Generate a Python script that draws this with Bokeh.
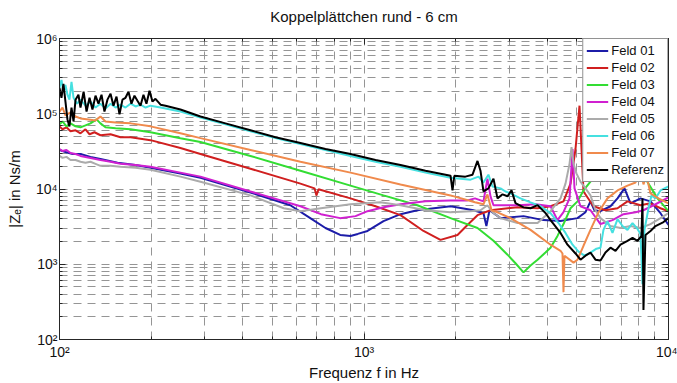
from bokeh.plotting import figure
from bokeh.models import Range1d, LogAxis, FixedTicker, CustomJSTickFormatter
from bokeh.embed import file_html
from bokeh.resources import INLINE

# ---------------------------------------------------------------------------
# Measured input impedance |Z_e| (Ns/m) over frequency (Hz)
# ---------------------------------------------------------------------------
feld01_f = [100, 104.6, 110.4, 117.2, 126.4, 136.3, 155.1, 177.7, 199, 249.5,
            290.4, 423.8, 573, 666, 747.3, 835, 903, 954, 1027, 1159,
            1318, 1497, 1924, 2290, 2468, 2523, 2583, 2808, 3341, 3885,
            4419, 5025, 5338, 5543, 5713, 5979, 6449, 6801, 7169, 7504,
            8091, 8727, 9413, 10000]
feld01_z = [3.30e4, 3.10e4, 2.92e4, 2.92e4, 2.67e4, 2.51e4, 2.23e4, 2.09e4, 1.91e4, 1.60e4,
            1.41e4, 9.0e3, 6.08e3, 4.10e3, 3.03e3, 2.45e3, 2.38e3, 2.53e3, 2.77e3, 3.75e3,
            4.63e3, 5.22e3, 5.9e3, 5.22e3, 4.77e3, 3.22e3, 5.22e3, 4.10e3, 4.36e3, 3.86e3,
            3.75e3, 4.10e3, 4.92e3, 6.85e3, 5.22e3, 5.07e3, 5.9e3, 7.51e3, 1.02e4, 6.46e3,
            7.51e3, 6.85e3, 4.77e3, 3.32e3]

feld02_f = [100, 102.3, 105.4, 108.7, 112.9, 117.2, 121.7, 125.5, 130.3, 136.3,
            147.1, 158.6, 171.1, 199, 249.5, 290.4, 423.8, 618.4, 688, 698,
            709, 903, 1091, 1318, 1568, 1783, 2028, 2186, 2359, 2603,
            3192, 3715, 4098, 4520, 4767, 4950, 5102, 5180, 5258, 5670,
            6208, 6801, 7333, 8091, 8727, 9413, 10000]
feld02_z = [6.8e4, 6.22e4, 6.6e4, 5.85e4, 6.03e4, 5.5e4, 6.22e4, 5.34e4, 5.68e4, 5.18e4,
            5.34e4, 4.88e4, 4.88e4, 4.46e4, 3.50e4, 2.92e4, 1.86e4, 1.18e4, 1.02e4, 8.22e3,
            9.9e3, 7.51e3, 5.9e3, 4.49e3, 2.77e3, 2.11e3, 2.45e3, 3.32e3, 4.49e3, 5.22e3,
            5.72e3, 5.55e3, 5.9e3, 6.85e3, 1.18e4, 3.40e4, 1.28e5, 3.40e4, 9.27e3, 5.9e3,
            5.22e3, 5.55e3, 6.85e3, 6.08e3, 6.46e3, 5.55e3, 5.07e3]

feld03_f = [100, 102.3, 105.4, 108.7, 112.9, 117.2, 121.7, 126.4, 132.3, 136.3,
            141.6, 152.8, 171.1, 199, 249.5, 290.4, 423.8, 618.4, 903, 1159,
            1497, 1924, 2359, 2662, 2960, 3144, 3341, 3523, 3715, 3944,
            4098, 4320, 4520, 4767, 5025, 5258, 5543, 6115, 6956, 7795,
            8403, 9200, 10000]
feld03_z = [7.23e4, 7.91e4, 6.8e4, 7.45e4, 6.8e4, 6.6e4, 7.0e4, 7.45e4, 8.41e4, 7.45e4,
            6.6e4, 6.4e4, 6.22e4, 5.68e4, 4.74e4, 4.22e4, 2.75e4, 1.75e4, 1.11e4, 8.22e3,
            6.08e3, 4.10e3, 3.03e3, 2.05e3, 1.34e3, 1.03e3, 7.8e2, 9.6e2, 1.15e3, 1.43e3,
            1.66e3, 2.38e3, 3.42e3, 5.55e3, 6.85e3, 9.56e3, 1.25e4, 2.30e4, 3.4e4, 2.16e4,
            1.37e4, 7.51e3, 5.07e3]

feld04_f = [100, 102.3, 105.4, 108.7, 112.9, 117.2, 126.4, 136.3, 147.1, 158.6,
            177.7, 199, 249.5, 290.4, 423.8, 618.4, 722, 835, 938, 1027,
            1159, 1318, 1592, 1924, 2186, 2314, 2468, 2543, 2603, 2662,
            3192, 3660, 4098, 4320, 4520, 4731, 4840, 4913, 5140, 5543,
            5979, 6547, 7115, 7795, 8276, 9063, 10000]
feld04_z = [3.40e4, 3.20e4, 3.30e4, 3.01e4, 2.92e4, 2.75e4, 2.59e4, 2.43e4, 2.30e4, 2.16e4,
            2.09e4, 1.97e4, 1.65e4, 1.46e4, 9.27e3, 5.9e3, 4.63e3, 4.10e3, 4.36e3, 5.07e3,
            5.72e3, 6.27e3, 6.85e3, 7.06e3, 7.06e3, 7.51e3, 6.85e3, 1.37e4, 7.97e3, 6.08e3,
            6.08e3, 6.27e3, 5.9e3, 3.86e3, 4.92e3, 7.51e3, 3.40e4, 1.02e4, 5.9e3, 5.22e3,
            3.42e3, 3.86e3, 4.63e3, 4.92e3, 5.22e3, 6.27e3, 7.74e3]

feld05_f = [100, 102.3, 105.4, 108.7, 112.9, 117.2, 121.7, 126.4, 131.3, 136.3,
            147.1, 158.6, 177.7, 199, 249.5, 290.4, 423.8, 545, 618.4, 722,
            903, 1132, 1318, 1592, 1924, 2238, 2413, 2543, 2642, 2808,
            3192, 3715, 4098, 4419, 4589, 4731, 4803, 4876, 4988, 5140,
            5338, 5543, 5756, 5979, 6449, 6956, 7504, 8091, 8727, 9413,
            10000]
feld05_z = [2.75e4, 2.59e4, 2.67e4, 2.43e4, 2.43e4, 2.30e4, 2.23e4, 2.30e4, 2.16e4, 2.03e4,
            2.03e4, 1.97e4, 1.91e4, 1.80e4, 1.46e4, 1.25e4, 8.22e3, 5.55e3, 5.07e3, 5.55e3,
            6.27e3, 6.65e3, 6.08e3, 5.22e3, 4.92e3, 5.07e3, 5.22e3, 6.08e3, 4.92e3, 4.10e3,
            3.53e3, 3.53e3, 5.07e3, 7.51e3, 1.18e4, 2.16e4, 3.61e4, 2.16e4, 1.60e4, 1.25e4,
            1.02e4, 8.22e3, 5.22e3, 4.10e3, 3.22e3, 3.03e3, 3.22e3, 3.03e3, 3.42e3, 4.10e3,
            4.77e3]

feld06_f = [100, 101.5, 103, 104.6, 106.2, 107.8, 109.5, 111.2, 114.2, 117.2,
            121.7, 126.4, 131.3, 136.3, 141.6, 147.1, 152.8, 158.6, 164.7, 171.1,
            177.7, 184.5, 191.7, 199, 214.7, 249.5, 290.4, 350.8, 423.8, 512,
            618.4, 747.3, 903, 1091, 1318, 1592, 1924, 2238, 2377, 2468,
            2562, 2642, 2808, 2916, 3074, 3266, 3523, 3798, 4098, 4353,
            4589, 4840, 5063, 5298, 5543, 5800, 5979, 6115, 6302, 6547,
            6801, 7062, 7333, 7618, 7912, 8091, 8214, 8339, 8596, 8793,
            9063, 9413, 10000]
feld06_z = [2.21e5, 2.81e5, 1.96e5, 2.42e5, 1.79e5, 1.54e5, 2.65e5, 1.63e5, 1.36e5, 1.54e5,
            1.28e5, 1.45e5, 1.21e5, 1.36e5, 1.17e5, 1.36e5, 1.21e5, 1.32e5, 1.21e5, 1.36e5,
            1.25e5, 1.32e5, 1.21e5, 1.28e5, 1.21e5, 1.07e5, 8.93e4, 7.23e4, 5.85e4, 4.74e4,
            3.95e4, 3.30e4, 2.75e4, 2.30e4, 1.97e4, 1.65e4, 1.41e4, 1.33e4, 1.46e4, 1.22e4,
            1.55e4, 1.08e4, 1.02e4, 9.27e3, 8.5e3, 7.51e3, 6.65e3, 5.9e3, 4.77e3, 3.53e3,
            2.61e3, 1.82e3, 1.47e3, 1.30e3, 1.43e3, 1.61e3, 1.66e3, 2.86e3, 3.75e3, 2.61e3,
            3.98e3, 3.22e3, 2.86e3, 3.53e3, 2.95e3, 2.53e3, 5.42e2, 2.86e3, 5.55e3, 8.22e3,
            7.51e3, 9.56e3, 1.08e4]

feld07_f = [100, 102.3, 104.6, 108.7, 112.9, 117.2, 124.5, 131.3, 136.3, 141.6,
            152.8, 171.1, 199, 249.5, 290.4, 423.8, 618.4, 903, 1318, 1924,
            2314, 2468, 2543, 2623, 2744, 3028, 3523, 4098, 4419, 4486,
            4520, 4554, 4876, 5025, 5258, 5543, 5890, 6302, 6801, 7333,
            7795, 8091, 8276, 8467, 8727, 9270, 10000]
feld07_z = [1.07e5, 1.21e5, 9.5e4, 1.04e5, 9.2e4, 8.67e4, 8.41e4, 8.16e4, 9.2e4, 7.91e4,
            7.67e4, 7.45e4, 6.8e4, 5.5e4, 4.74e4, 3.30e4, 2.30e4, 1.65e4, 1.15e4, 8.22e3,
            6.65e3, 6.27e3, 8.47e3, 5.22e3, 4.9e3, 4.10e3, 2.86e3, 1.82e3, 1.51e3, 1.39e3,
            4.26e2, 1.30e3, 1.05e3, 1.15e3, 1.76e3, 2.86e3, 4.9e3, 7.51e3, 9.56e3, 1.11e4,
            1.22e4, 1.86e4, 1.15e4, 1.5e4, 8.73e3, 7.51e3, 6.46e3]

referenz_f = [100, 101.5, 103, 104.6, 106.2, 107.8, 109.5, 111.2, 112.9, 115.4,
              117.2, 120, 122.7, 125.5, 128.3, 131.3, 134.3, 137.4, 140.5, 143.7,
              147.1, 150.4, 153.9, 157.4, 161, 164.7, 168.5, 172.3, 176.3, 180.3,
              184.5, 188.7, 193, 197.5, 202, 206.6, 214.7, 222.9, 249.5, 290.4,
              350.8, 423.8, 512, 618.4, 747.3, 903, 1091, 1318, 1592, 1924,
              1953, 1980, 2152, 2272, 2359, 2413, 2468, 2562, 2662, 2744,
              2851, 2960, 3051, 3144, 3341, 3523, 3715, 3944, 4098, 4419,
              4659, 4950, 5140, 5338, 5543, 5756, 5979, 6208, 6449, 6699,
              6956, 7333, 7618, 7912, 8152, 8214, 8276, 8403, 8727, 9063,
              9629, 10000]
referenz_z = [2.21e5, 1.63e5, 2.5e5, 1.45e5, 8.4e4, 6.8e4, 1.21e5, 7.9e4, 1.54e5, 1.79e5,
              1.21e5, 1.96e5, 1.07e5, 1.63e5, 1.14e5, 1.74e5, 1.36e5, 1.79e5, 1.07e5, 1.54e5,
              1.85e5, 1.28e5, 1.69e5, 9.8e4, 1.54e5, 1.63e5, 1.96e5, 1.36e5, 1.74e5, 1.49e5,
              1.28e5, 1.79e5, 1.36e5, 2.02e5, 1.45e5, 1.58e5, 1.32e5, 1.28e5, 1.14e5, 9.2e4,
              7.45e4, 6.03e4, 4.88e4, 4.08e4, 3.40e4, 2.92e4, 2.43e4, 2.09e4, 1.75e4, 1.50e4,
              9.6e3, 1.5e4, 1.46e4, 1.55e4, 2.36e4, 1.75e4, 9.3e3, 1.02e4, 1.37e4, 7.5e3,
              8.5e3, 8.0e3, 9.6e3, 6.5e3, 5.7e3, 5.55e3, 6.1e3, 4.8e3, 3.86e3, 2.61e3,
              1.82e3, 1.39e3, 1.15e3, 1.30e3, 1.43e3, 1.15e3, 1.12e3, 1.43e3, 1.66e3, 1.51e3,
              1.82e3, 2.05e3, 2.24e3, 2.05e3, 2.38e3, 7.5e3, 2.47e2, 2.45e3, 2.77e3, 3.22e3,
              3.64e3, 4.1e3]

series_names = ["Feld 01", "Feld 02", "Feld 03", "Feld 04",
                "Feld 05", "Feld 06", "Feld 07", "Referenz"]
series_colors = ["#1c1ca8", "#d01f1f", "#33dd33", "#d020d0",
                 "#ababab", "#45e0e0", "#f08a4c", "#000000"]
series_f = [feld01_f, feld02_f, feld03_f, feld04_f,
            feld05_f, feld06_f, feld07_f, referenz_f]
series_z = [feld01_z, feld02_z, feld03_z, feld04_z,
            feld05_z, feld06_z, feld07_z, referenz_z]

x_decades = [2, 3, 4]
y_decades = [2, 3, 4, 5, 6]
SUP = {2: "²", 3: "³", 4: "⁴", 5: "⁵", 6: "⁶"}
chart_title = "Koppelplättchen rund - 6 cm"

FONT = "Liberation Sans"
INK = "#262626"
TEXT = "#111111"
GRID = "#959595"

# ---------------------------------------------------------------------------
p = figure(width=677, height=383, x_axis_type="log", y_axis_type="log",
           x_range=Range1d(100, 10000), y_range=Range1d(100, 1e6),
           toolbar_location=None, output_backend="svg", title=None,
           min_border_left=59, min_border_right=9,
           min_border_top=38, min_border_bottom=40)
p.background_fill_color = "white"
p.border_fill_color = "white"
p.outline_line_color = INK
p.outline_line_width = 1


def decade_ticker(decades):
    majors = [10.0 ** d for d in decades]
    minors = [m * 10.0 ** d for d in decades[:-1] for m in range(2, 10)]
    return FixedTicker(ticks=majors, minor_ticks=minors)


def style_ticks(ax, decades):
    ax.ticker = decade_ticker(decades)
    ax.axis_line_color = INK
    ax.major_tick_line_color = INK
    ax.minor_tick_line_color = INK
    ax.major_tick_in = 6
    ax.major_tick_out = 0
    ax.minor_tick_in = 3
    ax.minor_tick_out = 0


def style_title(ax, title, title_standoff):
    ax.axis_label = title
    ax.axis_label_text_font = FONT
    ax.axis_label_text_font_size = "15px"
    ax.axis_label_text_font_style = "normal"
    ax.axis_label_text_color = TEXT
    ax.axis_label_standoff = title_standoff


def label_axis(ax, decades, standoff, title, title_standoff):
    ax.major_label_overrides = {10.0 ** d: "10" + SUP[d] for d in decades}
    ax.major_label_text_font = FONT
    ax.major_label_text_font_size = "14px"
    ax.major_label_text_color = TEXT
    ax.major_label_standoff = standoff
    style_title(ax, title, title_standoff)


xa = p.xaxis[0]
ya = p.yaxis[0]
style_ticks(xa, x_decades)
style_ticks(ya, y_decades)
label_axis(xa, x_decades, 4, "Frequenz f in Hz", 1)
label_axis(ya, y_decades, 2, "|Zₑ| in Ns/m", 10)
ya.major_label_orientation = "horizontal"

# tick marks on the upper and right frame edges, no tick labels there;
# the chart title sits on the upper one
blank = CustomJSTickFormatter(code="return ''")
top_axis = LogAxis()
right_axis = LogAxis()
for ax, dec in ((top_axis, x_decades), (right_axis, y_decades)):
    style_ticks(ax, dec)
    ax.formatter = blank
    ax.major_label_text_font_size = "0px"
    ax.major_label_standoff = 0
style_title(top_axis, chart_title, 14)
p.add_layout(top_axis, "above")
p.add_layout(right_axis, "right")

for g in (p.xgrid[0], p.ygrid[0]):
    g.grid_line_color = GRID
    g.grid_line_dash = "8 6"
    g.grid_line_width = 1
    g.minor_grid_line_color = GRID
    g.minor_grid_line_dash = "8 6"
    g.minor_grid_line_width = 1

# curves, reference drawn last so it lies on top
for name, color, fx, zy in zip(series_names, series_colors, series_f, series_z):
    p.line(fx, zy, line_color=color, line_width=2, legend_label=name)

lg = p.legend[0]
lg.location = "top_right"
lg.margin = 0
lg.padding = 3
lg.spacing = 0
lg.label_height = 17
lg.glyph_height = 17
lg.glyph_width = 22
lg.label_standoff = 3
lg.label_text_font = FONT
lg.label_text_font_size = "13px"
lg.label_text_color = TEXT
lg.border_line_color = INK
lg.border_line_width = 1
lg.background_fill_color = "white"
lg.background_fill_alpha = 1.0

open("out.html", "w").write(file_html(p, INLINE))
